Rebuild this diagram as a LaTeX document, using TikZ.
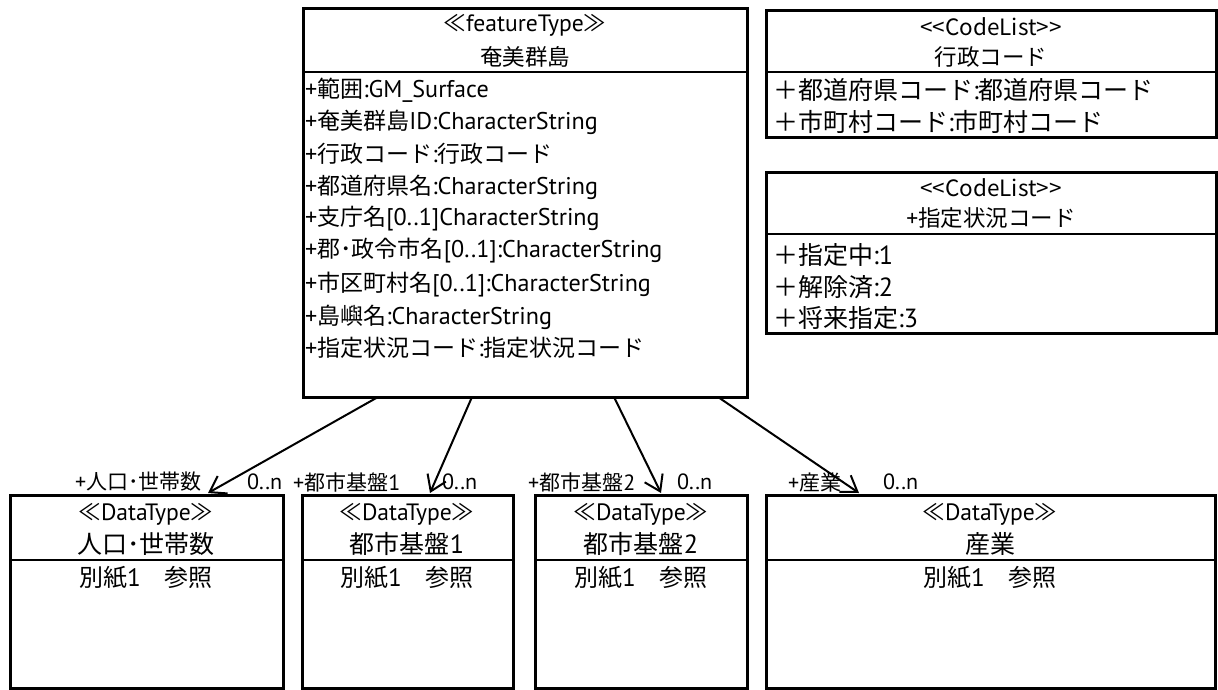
\documentclass[tikz,border=0pt]{standalone}
\usepackage{fontspec}
\setmainfont{PT Sans}[Scale=1.05]
\newfontfamily\jpfont{Noto Sans CJK JP}
% Japanese characters in the CJK font, the rest in the Latin one
\XeTeXinterchartokenstate=1
\newXeTeXintercharclass\jpclass
\count255="3000
\loop
  \XeTeXcharclass\count255=\jpclass
  \ifnum\count255<"9FFF \advance\count255 by 1
\repeat
\count255="FF00
\loop
  \XeTeXcharclass\count255=\jpclass
  \ifnum\count255<"FFEF \advance\count255 by 1
\repeat
\XeTeXcharclass"226A=\jpclass
\XeTeXcharclass"226B=\jpclass
\XeTeXinterchartoks 0 \jpclass = {\jpfont}
\XeTeXinterchartoks 4095 \jpclass = {\jpfont}
\XeTeXinterchartoks \jpclass 0 = {\rmfamily}
\XeTeXinterchartoks \jpclass 4095 = {\rmfamily}
\usetikzlibrary{arrows.meta}

\tikzset{
  umlbox/.style={draw, line width=3pt, anchor=north west, inner sep=0pt, outer sep=0pt},
  divider/.style={line width=2.5pt},
  hd/.style={inner sep=0pt, font=\fontsize{22.5}{26}\selectfont},
  cl/.style={inner sep=0pt, font=\fontsize{22.5}{26}\jpfont},
  attr/.style={anchor=west, inner sep=0pt, font=\fontsize{23}{27}\selectfont},
  code/.style={anchor=west, inner sep=0pt, font=\fontsize{25}{29}\selectfont},
  dtname/.style={inner sep=0pt, font=\fontsize{25}{29}\selectfont},
  dtbody/.style={inner sep=0pt, font=\fontsize{24}{28}\selectfont},
  role/.style={anchor=west, inner sep=0pt, font=\fontsize{21}{25}\selectfont},
  assoc/.style={line width=2pt, -{Straight Barb[length=15pt,width=20pt,line width=2pt]}}
}

\begin{document}
\begin{tikzpicture}[x=1pt, y=-1pt]
	\useasboundingbox (0,0) rectangle (1218,689);
	% featureType
	\node[umlbox, minimum width=444pt, minimum height=389pt] (amami) at (303,8) {};
	\draw[divider] (amami.west |- 0,72) -- (amami.east |- 0,72);
	\node[hd] (amami-st) at (525,25) {≪featureType≫};
	\node[hd] (amami-nm) at (525,57) {奄美群島};
	\node[attr] (amami-r1) at (305,90) {+範囲:GM\_Surface};
	\node[attr] (amami-r2) at (305,122) {+奄美群島ID:CharacterString};
	\node[attr] (amami-r3) at (305,154) {+行政コード:行政コード};
	\node[attr] (amami-r4) at (305,187) {+都道府県名:CharacterString};
	\node[attr] (amami-r5) at (305,219) {+支庁名[0..1]CharacterString};
	\node[attr] (amami-r6) at (305,251) {+郡･政令市名[0..1]:CharacterString};
	\node[attr] (amami-r7) at (305,285) {+市区町村名[0..1]:CharacterString};
	\node[attr] (amami-r8) at (305,317) {+島嶼名:CharacterString};
	\node[attr] (amami-r9) at (305,348) {+指定状況コード:指定状況コード};
	% CodeList
	\node[umlbox, minimum width=450pt, minimum height=127pt] (gyosei) at (766,10) {};
	\draw[divider] (gyosei.west |- 0,72) -- (gyosei.east |- 0,72);
	\node[cl] (gyosei-st) at (991,27) {<{}<CodeList>{}>};
	\node[hd] (gyosei-nm) at (991,57) {行政コード};
	\node[code] (gyosei-r1) at (773,90) {＋都道府県コード:都道府県コード};
	\node[code] (gyosei-r2) at (773,122) {＋市町村コード:市町村コード};
	\node[umlbox, minimum width=450pt, minimum height=161pt] (shitei) at (766,172) {};
	\draw[divider] (shitei.west |- 0,234) -- (shitei.east |- 0,234);
	\node[cl] (shitei-st) at (991,188) {<{}<CodeList>{}>};
	\node[hd] (shitei-nm) at (991,218) {+指定状況コード};
	\node[code] (shitei-r1) at (773,255) {＋指定中:1};
	\node[code] (shitei-r2) at (773,287) {＋解除済:2};
	\node[code] (shitei-r3) at (773,318) {＋将来指定:3};
	% DataType
	\node[umlbox, minimum width=273pt, minimum height=193pt] (jinko) at (10,495) {};
	\draw[divider] (jinko.west |- 0,560) -- (jinko.east |- 0,560);
	\node[hd] (jinko-st) at (146,514) {≪DataType≫};
	\node[dtname] (jinko-nm) at (146,544) {人口･世帯数};
	\node[dtbody] (jinko-bd) at (146,578) {別紙1　参照};
	\node[umlbox, minimum width=211pt, minimum height=193pt] (toshi1) at (302,495) {};
	\draw[divider] (toshi1.west |- 0,560) -- (toshi1.east |- 0,560);
	\node[hd] (toshi1-st) at (407,514) {≪DataType≫};
	\node[dtname] (toshi1-nm) at (407,544) {都市基盤1};
	\node[dtbody] (toshi1-bd) at (407,578) {別紙1　参照};
	\node[umlbox, minimum width=212pt, minimum height=193pt] (toshi2) at (535,495) {};
	\draw[divider] (toshi2.west |- 0,560) -- (toshi2.east |- 0,560);
	\node[hd] (toshi2-st) at (641,514) {≪DataType≫};
	\node[dtname] (toshi2-nm) at (641,544) {都市基盤2};
	\node[dtbody] (toshi2-bd) at (641,578) {別紙1　参照};
	\node[umlbox, minimum width=449pt, minimum height=193pt] (sangyo) at (766,495) {};
	\draw[divider] (sangyo.west |- 0,560) -- (sangyo.east |- 0,560);
	\node[hd] (sangyo-st) at (990,514) {≪DataType≫};
	\node[dtname] (sangyo-nm) at (990,544) {産業};
	\node[dtbody] (sangyo-bd) at (990,578) {別紙1　参照};
	% associations
	\draw[assoc] ([xshift=75pt]amami.south west) -- ([xshift=198pt,yshift=2pt]jinko.north west);
	\draw[assoc] ([xshift=169pt]amami.south west) -- ([xshift=128pt,yshift=2pt]toshi1.north west);
	\draw[assoc] ([xshift=311pt]amami.south west) -- ([xshift=126pt,yshift=2pt]toshi2.north west);
	\draw[assoc] ([xshift=415pt]amami.south west) -- ([xshift=93pt,yshift=2pt]sangyo.north west);
	\node[role] (jinko-rl) at (75,482) {+人口･世帯数};
	\node[role] (jinko-mt) at (247,482) {0..n};
	\node[role] (toshi1-rl) at (293,482) {+都市基盤1};
	\node[role] (toshi1-mt) at (442,482) {0..n};
	\node[role] (toshi2-rl) at (528,482) {+都市基盤2};
	\node[role] (toshi2-mt) at (677,482) {0..n};
	\node[role] (sangyo-rl) at (788,482) {+産業};
	\node[role] (sangyo-mt) at (883,482) {0..n};
\end{tikzpicture}
\end{document}
